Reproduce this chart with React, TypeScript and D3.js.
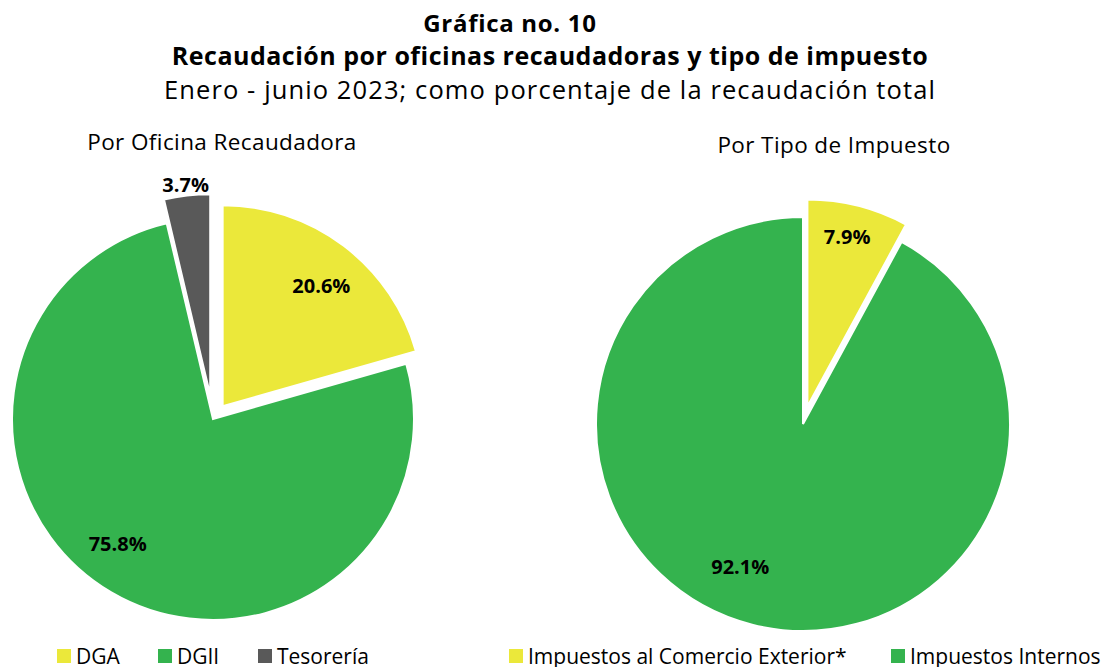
import React from 'react';
import * as d3 from 'd3';

// Data
const officeLabels = ['DGA', 'DGII', 'Tesorería'];
const officeValues = [20.6, 75.8, 3.7];
const officeExplode = [16, 0, 24];

const taxLabels = ['Impuestos al Comercio Exterior*', 'Impuestos Internos'];
const taxValues = [7.9, 92.1];
const taxExplode = [18, 0];

const colors = ['#EBE83A', '#34B34E', '#595959'];

const FONT = '"Open Sans", "Noto Sans", sans-serif';

interface PieProps {
  values: number[];
  explode: number[];
  cx: number;
  cy: number;
  r: number;
  labelRadius: number[];
  labelNudge: number[]; // degrees, label placement tweak like Excel's
}

const Pie: React.FC<PieProps> = ({ values, explode, cx, cy, r, labelRadius, labelNudge }) => {
  const pie = d3.pie<number>().sort(null).value(d => d);
  const arcs = pie(values);
  const arc = d3.arc<d3.PieArcDatum<number>>().innerRadius(0).outerRadius(r);

  return (
    <g transform={`translate(${cx},${cy})`}>
      {arcs.map((a, i) => {
        const mid = (a.startAngle + a.endAngle) / 2;
        const dx = Math.sin(mid) * explode[i];
        const dy = -Math.cos(mid) * explode[i];
        return (
          <path
            key={i}
            d={arc(a) || ''}
            transform={`translate(${dx},${dy})`}
            fill={colors[i]}
            stroke="#fff"
            strokeWidth={2}
          />
        );
      })}
      {arcs.map((a, i) => {
        const mid = (a.startAngle + a.endAngle) / 2 + (labelNudge[i] * Math.PI) / 180;
        const lr = labelRadius[i];
        return (
          <text
            key={'l' + i}
            x={Math.sin(mid) * lr}
            y={-Math.cos(mid) * lr}
            textAnchor="middle"
            dominantBaseline="central"
            fontFamily={FONT}
            fontWeight="bold"
            fontSize={20}
            fill="#000"
          >
            {d3.format('.1f')(a.data)}%
          </text>
        );
      })}
    </g>
  );
};

const Legend: React.FC<{ labels: string[]; xs: number[]; y: number }> = ({ labels, xs, y }) => (
  <g>
    {labels.map((l, i) => (
      <g key={l} transform={`translate(${xs[i]},${y})`}>
        <rect x={0} y={-15} width={14} height={14} fill={colors[i]} />
        <text x={19} y={0} fontFamily={FONT} fontSize={21} fill="#000">
          {l}
        </text>
      </g>
    ))}
  </g>
);

export default function App() {
  const width = 1101;
  const height = 667;
  return (
    <svg
      width={width}
      height={height}
      style={{ position: 'absolute', left: 0, top: 0, background: '#fff' }}
    >
      <g fontFamily={FONT} textAnchor="middle" fill="#000">
        <text x={510} y={22} dominantBaseline="central" fontWeight="bold" fontSize={24} letterSpacing={0.7}>
          Gráfica no. 10
        </text>
        <text x={550} y={55} dominantBaseline="central" fontWeight="bold" fontSize={25} letterSpacing={0.5}>
          Recaudación por oficinas recaudadoras y tipo de impuesto
        </text>
        <text x={550} y={89} dominantBaseline="central" fontSize={25.5} letterSpacing={1.1}>
          Enero - junio 2023; como porcentaje de la recaudación total
        </text>
        <text x={222} y={141} dominantBaseline="central" fontSize={22.5} letterSpacing={0.4}>
          Por Oficina Recaudadora
        </text>
        <text x={834} y={144} dominantBaseline="central" fontSize={22.5} letterSpacing={0.4}>
          Por Tipo de Impuesto
        </text>
      </g>

      <Pie
        values={officeValues}
        explode={officeExplode}
        cx={213}
        cy={419}
        r={201}
        labelRadius={[172, 157, 236]}
        labelNudge={[2, 7, 0]}
      />
      <Pie
        values={taxValues}
        explode={taxExplode}
        cx={803}
        cy={424}
        r={207}
        labelRadius={[193, 156]}
        labelNudge={[-1, 9.5]}
      />

      <Legend labels={officeLabels} xs={[57, 158, 258]} y={664} />
      <Legend labels={taxLabels} xs={[509, 891]} y={664} />
    </svg>
  );
}
